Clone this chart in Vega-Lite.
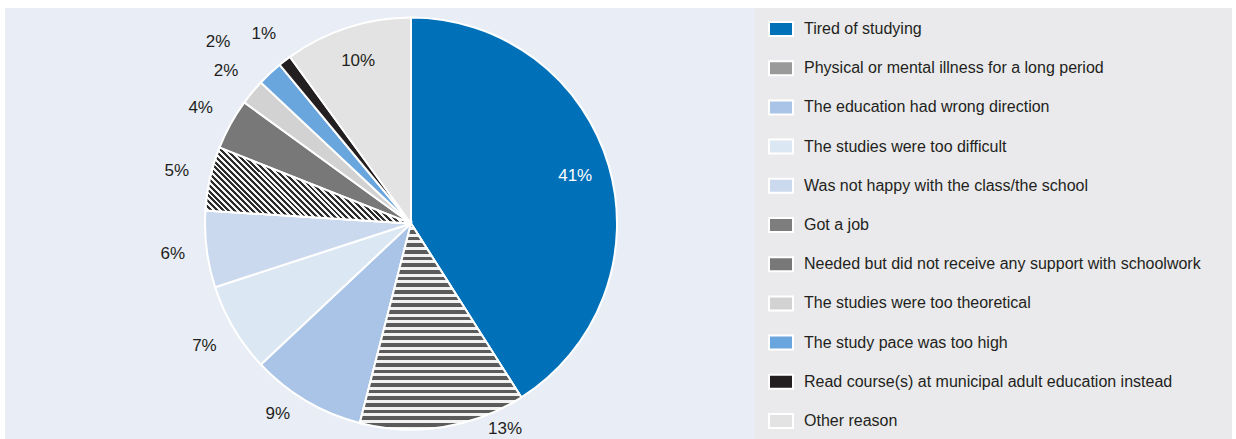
{
  "$schema": "https://vega.github.io/schema/vega-lite/v6.json",
  "background": "white",
  "padding": {"left": 5, "top": 8, "right": 4, "bottom": 0},
  "autosize": {"type": "pad"},
  "spacing": 0,
  "config": {
    "view": {"stroke": null},
    "font": "Liberation Sans",
    "concat": {"spacing": 0}
  },
  "datasets": {
    "reasons": [
      {"rank": 1, "reason": "Tired of studying", "share": 0.41},
      {"rank": 2, "reason": "Physical or mental illness for a long period", "share": 0.13},
      {"rank": 3, "reason": "The education had wrong direction", "share": 0.09},
      {"rank": 4, "reason": "The studies were too difficult", "share": 0.07},
      {"rank": 5, "reason": "Was not happy with the class/the school", "share": 0.06},
      {"rank": 6, "reason": "Got a job", "share": 0.05},
      {"rank": 7, "reason": "Needed but did not receive any support with schoolwork", "share": 0.04},
      {"rank": 8, "reason": "The studies were too theoretical", "share": 0.02},
      {"rank": 9, "reason": "The study pace was too high", "share": 0.02},
      {"rank": 10, "reason": "Read course(s) at municipal adult education instead", "share": 0.01},
      {"rank": 11, "reason": "Other reason", "share": 0.10}
    ]
  },
  "hconcat": [
    {
      "width": 62,
      "height": 431,
      "view": {"fill": "#e9edf6", "stroke": null},
      "data": {"values": [{"blank": ""}]},
      "mark": {"type": "text"},
      "encoding": {"text": {"field": "blank", "type": "nominal"}}
    },
    {
      "width": 688,
      "height": 431,
      "view": {"fill": "#e9edf6", "stroke": null},
      "data": {"name": "reasons"},
      "encoding": {
        "theta": {"field": "share", "type": "quantitative", "stack": true},
        "order": {"field": "rank", "type": "quantitative"}
      },
      "layer": [
        {
          "mark": {"type": "arc", "outerRadius": 206, "stroke": "white", "strokeWidth": 2},
          "encoding": {
            "color": {
              "field": "reason",
              "type": "nominal",
              "scale": {
                "domain": [
                  "Tired of studying",
                  "Physical or mental illness for a long period",
                  "The education had wrong direction",
                  "The studies were too difficult",
                  "Was not happy with the class/the school",
                  "Got a job",
                  "Needed but did not receive any support with schoolwork",
                  "The studies were too theoretical",
                  "The study pace was too high",
                  "Read course(s) at municipal adult education instead",
                  "Other reason"
                ],
                "range": ["#0070b9", "#9a9a9a", "#a9c4e6", "#dce7f4", "#cbd9ee", "#7d7d7d", "#787878", "#d2d2d2", "#6aa6de", "#231f20", "#e3e3e3"]
              },
              "legend": {
                "orient": "none",
                "legendX": 763,
                "legendY": 8,
                "title": null,
                "padding": 0,
                "symbolType": "M-1,-0.583H1V0.583H-1Z",
                "symbolSize": 576,
                "symbolStrokeColor": "white",
                "symbolStrokeWidth": 2,
                "symbolOpacity": 1,
                "labelFont": "Liberation Sans",
                "labelFontSize": 16,
                "labelColor": "#231f20",
                "labelOffset": 10,
                "labelLimit": 0,
                "rowPadding": 15.2
              }
            }
          }
        },
        {
          "mark": {
            "type": "arc", "outerRadius": 206, "stroke": "white", "strokeWidth": 2,
            "fill": {"gradient": "linear", "x1": 0, "y1": 0, "x2": 0, "y2": 1, "stops": [
              {"offset": 0, "color": "#5b5b5b"}, {"offset": 0.0177, "color": "#5b5b5b"}, {"offset": 0.0177, "color": "#f2f2f2"}, {"offset": 0.0323, "color": "#f2f2f2"},
              {"offset": 0.0323, "color": "#5b5b5b"}, {"offset": 0.0500, "color": "#5b5b5b"}, {"offset": 0.0500, "color": "#f2f2f2"}, {"offset": 0.0645, "color": "#f2f2f2"},
              {"offset": 0.0645, "color": "#5b5b5b"}, {"offset": 0.0823, "color": "#5b5b5b"}, {"offset": 0.0823, "color": "#f2f2f2"}, {"offset": 0.0968, "color": "#f2f2f2"},
              {"offset": 0.0968, "color": "#5b5b5b"}, {"offset": 0.1145, "color": "#5b5b5b"}, {"offset": 0.1145, "color": "#f2f2f2"}, {"offset": 0.1290, "color": "#f2f2f2"},
              {"offset": 0.1290, "color": "#5b5b5b"}, {"offset": 0.1468, "color": "#5b5b5b"}, {"offset": 0.1468, "color": "#f2f2f2"}, {"offset": 0.1613, "color": "#f2f2f2"},
              {"offset": 0.1613, "color": "#5b5b5b"}, {"offset": 0.1790, "color": "#5b5b5b"}, {"offset": 0.1790, "color": "#f2f2f2"}, {"offset": 0.1935, "color": "#f2f2f2"},
              {"offset": 0.1935, "color": "#5b5b5b"}, {"offset": 0.2113, "color": "#5b5b5b"}, {"offset": 0.2113, "color": "#f2f2f2"}, {"offset": 0.2258, "color": "#f2f2f2"},
              {"offset": 0.2258, "color": "#5b5b5b"}, {"offset": 0.2435, "color": "#5b5b5b"}, {"offset": 0.2435, "color": "#f2f2f2"}, {"offset": 0.2581, "color": "#f2f2f2"},
              {"offset": 0.2581, "color": "#5b5b5b"}, {"offset": 0.2758, "color": "#5b5b5b"}, {"offset": 0.2758, "color": "#f2f2f2"}, {"offset": 0.2903, "color": "#f2f2f2"},
              {"offset": 0.2903, "color": "#5b5b5b"}, {"offset": 0.3081, "color": "#5b5b5b"}, {"offset": 0.3081, "color": "#f2f2f2"}, {"offset": 0.3226, "color": "#f2f2f2"},
              {"offset": 0.3226, "color": "#5b5b5b"}, {"offset": 0.3403, "color": "#5b5b5b"}, {"offset": 0.3403, "color": "#f2f2f2"}, {"offset": 0.3548, "color": "#f2f2f2"},
              {"offset": 0.3548, "color": "#5b5b5b"}, {"offset": 0.3726, "color": "#5b5b5b"}, {"offset": 0.3726, "color": "#f2f2f2"}, {"offset": 0.3871, "color": "#f2f2f2"},
              {"offset": 0.3871, "color": "#5b5b5b"}, {"offset": 0.4048, "color": "#5b5b5b"}, {"offset": 0.4048, "color": "#f2f2f2"}, {"offset": 0.4194, "color": "#f2f2f2"},
              {"offset": 0.4194, "color": "#5b5b5b"}, {"offset": 0.4371, "color": "#5b5b5b"}, {"offset": 0.4371, "color": "#f2f2f2"}, {"offset": 0.4516, "color": "#f2f2f2"},
              {"offset": 0.4516, "color": "#5b5b5b"}, {"offset": 0.4694, "color": "#5b5b5b"}, {"offset": 0.4694, "color": "#f2f2f2"}, {"offset": 0.4839, "color": "#f2f2f2"},
              {"offset": 0.4839, "color": "#5b5b5b"}, {"offset": 0.5016, "color": "#5b5b5b"}, {"offset": 0.5016, "color": "#f2f2f2"}, {"offset": 0.5161, "color": "#f2f2f2"},
              {"offset": 0.5161, "color": "#5b5b5b"}, {"offset": 0.5339, "color": "#5b5b5b"}, {"offset": 0.5339, "color": "#f2f2f2"}, {"offset": 0.5484, "color": "#f2f2f2"},
              {"offset": 0.5484, "color": "#5b5b5b"}, {"offset": 0.5661, "color": "#5b5b5b"}, {"offset": 0.5661, "color": "#f2f2f2"}, {"offset": 0.5806, "color": "#f2f2f2"},
              {"offset": 0.5806, "color": "#5b5b5b"}, {"offset": 0.5984, "color": "#5b5b5b"}, {"offset": 0.5984, "color": "#f2f2f2"}, {"offset": 0.6129, "color": "#f2f2f2"},
              {"offset": 0.6129, "color": "#5b5b5b"}, {"offset": 0.6306, "color": "#5b5b5b"}, {"offset": 0.6306, "color": "#f2f2f2"}, {"offset": 0.6452, "color": "#f2f2f2"},
              {"offset": 0.6452, "color": "#5b5b5b"}, {"offset": 0.6629, "color": "#5b5b5b"}, {"offset": 0.6629, "color": "#f2f2f2"}, {"offset": 0.6774, "color": "#f2f2f2"},
              {"offset": 0.6774, "color": "#5b5b5b"}, {"offset": 0.6952, "color": "#5b5b5b"}, {"offset": 0.6952, "color": "#f2f2f2"}, {"offset": 0.7097, "color": "#f2f2f2"},
              {"offset": 0.7097, "color": "#5b5b5b"}, {"offset": 0.7274, "color": "#5b5b5b"}, {"offset": 0.7274, "color": "#f2f2f2"}, {"offset": 0.7419, "color": "#f2f2f2"},
              {"offset": 0.7419, "color": "#5b5b5b"}, {"offset": 0.7597, "color": "#5b5b5b"}, {"offset": 0.7597, "color": "#f2f2f2"}, {"offset": 0.7742, "color": "#f2f2f2"},
              {"offset": 0.7742, "color": "#5b5b5b"}, {"offset": 0.7919, "color": "#5b5b5b"}, {"offset": 0.7919, "color": "#f2f2f2"}, {"offset": 0.8065, "color": "#f2f2f2"},
              {"offset": 0.8065, "color": "#5b5b5b"}, {"offset": 0.8242, "color": "#5b5b5b"}, {"offset": 0.8242, "color": "#f2f2f2"}, {"offset": 0.8387, "color": "#f2f2f2"},
              {"offset": 0.8387, "color": "#5b5b5b"}, {"offset": 0.8565, "color": "#5b5b5b"}, {"offset": 0.8565, "color": "#f2f2f2"}, {"offset": 0.8710, "color": "#f2f2f2"},
              {"offset": 0.8710, "color": "#5b5b5b"}, {"offset": 0.8887, "color": "#5b5b5b"}, {"offset": 0.8887, "color": "#f2f2f2"}, {"offset": 0.9032, "color": "#f2f2f2"},
              {"offset": 0.9032, "color": "#5b5b5b"}, {"offset": 0.9210, "color": "#5b5b5b"}, {"offset": 0.9210, "color": "#f2f2f2"}, {"offset": 0.9355, "color": "#f2f2f2"},
              {"offset": 0.9355, "color": "#5b5b5b"}, {"offset": 0.9532, "color": "#5b5b5b"}, {"offset": 0.9532, "color": "#f2f2f2"}, {"offset": 0.9677, "color": "#f2f2f2"},
              {"offset": 0.9677, "color": "#5b5b5b"}, {"offset": 0.9855, "color": "#5b5b5b"}, {"offset": 0.9855, "color": "#f2f2f2"}, {"offset": 1, "color": "#f2f2f2"}
            ]}
          },
          "encoding": {
            "opacity": {"condition": {"test": "datum.rank == 2", "value": 1}, "value": 0}
          }
        },
        {
          "mark": {
            "type": "arc", "outerRadius": 206, "stroke": "white", "strokeWidth": 2,
            "fill": {"gradient": "linear", "x1": 0, "y1": 1, "x2": 1, "y2": 0.631, "stops": [
              {"offset": 0, "color": "#2b2b2b"}, {"offset": 0.0125, "color": "#2b2b2b"}, {"offset": 0.0125, "color": "#f4f4f4"}, {"offset": 0.025, "color": "#f4f4f4"},
              {"offset": 0.025, "color": "#2b2b2b"}, {"offset": 0.0375, "color": "#2b2b2b"}, {"offset": 0.0375, "color": "#f4f4f4"}, {"offset": 0.05, "color": "#f4f4f4"},
              {"offset": 0.05, "color": "#2b2b2b"}, {"offset": 0.0625, "color": "#2b2b2b"}, {"offset": 0.0625, "color": "#f4f4f4"}, {"offset": 0.075, "color": "#f4f4f4"},
              {"offset": 0.075, "color": "#2b2b2b"}, {"offset": 0.0875, "color": "#2b2b2b"}, {"offset": 0.0875, "color": "#f4f4f4"}, {"offset": 0.1, "color": "#f4f4f4"},
              {"offset": 0.1, "color": "#2b2b2b"}, {"offset": 0.1125, "color": "#2b2b2b"}, {"offset": 0.1125, "color": "#f4f4f4"}, {"offset": 0.125, "color": "#f4f4f4"},
              {"offset": 0.125, "color": "#2b2b2b"}, {"offset": 0.1375, "color": "#2b2b2b"}, {"offset": 0.1375, "color": "#f4f4f4"}, {"offset": 0.15, "color": "#f4f4f4"},
              {"offset": 0.15, "color": "#2b2b2b"}, {"offset": 0.1625, "color": "#2b2b2b"}, {"offset": 0.1625, "color": "#f4f4f4"}, {"offset": 0.175, "color": "#f4f4f4"},
              {"offset": 0.175, "color": "#2b2b2b"}, {"offset": 0.1875, "color": "#2b2b2b"}, {"offset": 0.1875, "color": "#f4f4f4"}, {"offset": 0.2, "color": "#f4f4f4"},
              {"offset": 0.2, "color": "#2b2b2b"}, {"offset": 0.2125, "color": "#2b2b2b"}, {"offset": 0.2125, "color": "#f4f4f4"}, {"offset": 0.225, "color": "#f4f4f4"},
              {"offset": 0.225, "color": "#2b2b2b"}, {"offset": 0.2375, "color": "#2b2b2b"}, {"offset": 0.2375, "color": "#f4f4f4"}, {"offset": 0.25, "color": "#f4f4f4"},
              {"offset": 0.25, "color": "#2b2b2b"}, {"offset": 0.2625, "color": "#2b2b2b"}, {"offset": 0.2625, "color": "#f4f4f4"}, {"offset": 0.275, "color": "#f4f4f4"},
              {"offset": 0.275, "color": "#2b2b2b"}, {"offset": 0.2875, "color": "#2b2b2b"}, {"offset": 0.2875, "color": "#f4f4f4"}, {"offset": 0.3, "color": "#f4f4f4"},
              {"offset": 0.3, "color": "#2b2b2b"}, {"offset": 0.3125, "color": "#2b2b2b"}, {"offset": 0.3125, "color": "#f4f4f4"}, {"offset": 0.325, "color": "#f4f4f4"},
              {"offset": 0.325, "color": "#2b2b2b"}, {"offset": 0.3375, "color": "#2b2b2b"}, {"offset": 0.3375, "color": "#f4f4f4"}, {"offset": 0.35, "color": "#f4f4f4"},
              {"offset": 0.35, "color": "#2b2b2b"}, {"offset": 0.3625, "color": "#2b2b2b"}, {"offset": 0.3625, "color": "#f4f4f4"}, {"offset": 0.375, "color": "#f4f4f4"},
              {"offset": 0.375, "color": "#2b2b2b"}, {"offset": 0.3875, "color": "#2b2b2b"}, {"offset": 0.3875, "color": "#f4f4f4"}, {"offset": 0.4, "color": "#f4f4f4"},
              {"offset": 0.4, "color": "#2b2b2b"}, {"offset": 0.4125, "color": "#2b2b2b"}, {"offset": 0.4125, "color": "#f4f4f4"}, {"offset": 0.425, "color": "#f4f4f4"},
              {"offset": 0.425, "color": "#2b2b2b"}, {"offset": 0.4375, "color": "#2b2b2b"}, {"offset": 0.4375, "color": "#f4f4f4"}, {"offset": 0.45, "color": "#f4f4f4"},
              {"offset": 0.45, "color": "#2b2b2b"}, {"offset": 0.4625, "color": "#2b2b2b"}, {"offset": 0.4625, "color": "#f4f4f4"}, {"offset": 0.475, "color": "#f4f4f4"},
              {"offset": 0.475, "color": "#2b2b2b"}, {"offset": 0.4875, "color": "#2b2b2b"}, {"offset": 0.4875, "color": "#f4f4f4"}, {"offset": 0.5, "color": "#f4f4f4"},
              {"offset": 0.5, "color": "#2b2b2b"}, {"offset": 0.5125, "color": "#2b2b2b"}, {"offset": 0.5125, "color": "#f4f4f4"}, {"offset": 0.525, "color": "#f4f4f4"},
              {"offset": 0.525, "color": "#2b2b2b"}, {"offset": 0.5375, "color": "#2b2b2b"}, {"offset": 0.5375, "color": "#f4f4f4"}, {"offset": 0.55, "color": "#f4f4f4"},
              {"offset": 0.55, "color": "#2b2b2b"}, {"offset": 0.5625, "color": "#2b2b2b"}, {"offset": 0.5625, "color": "#f4f4f4"}, {"offset": 0.575, "color": "#f4f4f4"},
              {"offset": 0.575, "color": "#2b2b2b"}, {"offset": 0.5875, "color": "#2b2b2b"}, {"offset": 0.5875, "color": "#f4f4f4"}, {"offset": 0.6, "color": "#f4f4f4"},
              {"offset": 0.6, "color": "#2b2b2b"}, {"offset": 0.6125, "color": "#2b2b2b"}, {"offset": 0.6125, "color": "#f4f4f4"}, {"offset": 0.625, "color": "#f4f4f4"},
              {"offset": 0.625, "color": "#2b2b2b"}, {"offset": 0.6375, "color": "#2b2b2b"}, {"offset": 0.6375, "color": "#f4f4f4"}, {"offset": 0.65, "color": "#f4f4f4"},
              {"offset": 0.65, "color": "#2b2b2b"}, {"offset": 0.6625, "color": "#2b2b2b"}, {"offset": 0.6625, "color": "#f4f4f4"}, {"offset": 0.675, "color": "#f4f4f4"},
              {"offset": 0.675, "color": "#2b2b2b"}, {"offset": 0.6875, "color": "#2b2b2b"}, {"offset": 0.6875, "color": "#f4f4f4"}, {"offset": 0.7, "color": "#f4f4f4"},
              {"offset": 0.7, "color": "#2b2b2b"}, {"offset": 0.7125, "color": "#2b2b2b"}, {"offset": 0.7125, "color": "#f4f4f4"}, {"offset": 0.725, "color": "#f4f4f4"},
              {"offset": 0.725, "color": "#2b2b2b"}, {"offset": 0.7375, "color": "#2b2b2b"}, {"offset": 0.7375, "color": "#f4f4f4"}, {"offset": 0.75, "color": "#f4f4f4"},
              {"offset": 0.75, "color": "#2b2b2b"}, {"offset": 0.7625, "color": "#2b2b2b"}, {"offset": 0.7625, "color": "#f4f4f4"}, {"offset": 0.775, "color": "#f4f4f4"},
              {"offset": 0.775, "color": "#2b2b2b"}, {"offset": 0.7875, "color": "#2b2b2b"}, {"offset": 0.7875, "color": "#f4f4f4"}, {"offset": 0.8, "color": "#f4f4f4"},
              {"offset": 0.8, "color": "#2b2b2b"}, {"offset": 0.8125, "color": "#2b2b2b"}, {"offset": 0.8125, "color": "#f4f4f4"}, {"offset": 0.825, "color": "#f4f4f4"},
              {"offset": 0.825, "color": "#2b2b2b"}, {"offset": 0.8375, "color": "#2b2b2b"}, {"offset": 0.8375, "color": "#f4f4f4"}, {"offset": 0.85, "color": "#f4f4f4"},
              {"offset": 0.85, "color": "#2b2b2b"}, {"offset": 0.8625, "color": "#2b2b2b"}, {"offset": 0.8625, "color": "#f4f4f4"}, {"offset": 0.875, "color": "#f4f4f4"},
              {"offset": 0.875, "color": "#2b2b2b"}, {"offset": 0.8875, "color": "#2b2b2b"}, {"offset": 0.8875, "color": "#f4f4f4"}, {"offset": 0.9, "color": "#f4f4f4"},
              {"offset": 0.9, "color": "#2b2b2b"}, {"offset": 0.9125, "color": "#2b2b2b"}, {"offset": 0.9125, "color": "#f4f4f4"}, {"offset": 0.925, "color": "#f4f4f4"},
              {"offset": 0.925, "color": "#2b2b2b"}, {"offset": 0.9375, "color": "#2b2b2b"}, {"offset": 0.9375, "color": "#f4f4f4"}, {"offset": 0.95, "color": "#f4f4f4"},
              {"offset": 0.95, "color": "#2b2b2b"}, {"offset": 0.9625, "color": "#2b2b2b"}, {"offset": 0.9625, "color": "#f4f4f4"}, {"offset": 0.975, "color": "#f4f4f4"},
              {"offset": 0.975, "color": "#2b2b2b"}, {"offset": 0.9875, "color": "#2b2b2b"}, {"offset": 0.9875, "color": "#f4f4f4"}, {"offset": 1, "color": "#f4f4f4"}
            ]}
          },
          "encoding": {
            "opacity": {"condition": {"test": "datum.rank == 6", "value": 1}, "value": 0}
          }
        },
        {
          "mark": {"type": "text", "radius": 171, "fontSize": 17, "clip": true},
          "encoding": {
            "text": {"field": "share", "type": "quantitative", "format": ".0%"},
            "opacity": {"condition": {"test": "datum.rank == 1 || datum.rank == 11", "value": 1}, "value": 0},
            "color": {"condition": {"test": "datum.rank == 1", "value": "white"}, "value": "#231f20"}
          }
        },
        {
          "mark": {"type": "text", "radius": 240, "fontSize": 17, "color": "#231f20", "clip": true},
          "encoding": {
            "text": {"field": "share", "type": "quantitative", "format": ".0%"},
            "opacity": {"condition": {"test": "datum.rank >= 4 && datum.rank <= 8 || datum.rank == 10", "value": 1}, "value": 0}
          }
        },
        {
          "mark": {"type": "text", "radius": 226, "thetaOffset": -0.272, "fontSize": 17, "color": "#231f20", "clip": true},
          "encoding": {
            "text": {"field": "share", "type": "quantitative", "format": ".0%"},
            "opacity": {"condition": {"test": "datum.rank == 2", "value": 1}, "value": 0}
          }
        },
        {
          "mark": {"type": "text", "radius": 232, "thetaOffset": 0.077, "fontSize": 17, "color": "#231f20", "clip": true},
          "encoding": {
            "text": {"field": "share", "type": "quantitative", "format": ".0%"},
            "opacity": {"condition": {"test": "datum.rank == 3", "value": 1}, "value": 0}
          }
        },
        {
          "mark": {"type": "text", "radius": 265, "thetaOffset": -0.061, "fontSize": 17, "color": "#231f20", "clip": true},
          "encoding": {
            "text": {"field": "share", "type": "quantitative", "format": ".0%"},
            "opacity": {"condition": {"test": "datum.rank == 9", "value": 1}, "value": 0}
          }
        }
      ]
    },
    {
      "width": 477,
      "height": 431,
      "view": {"fill": "#eaeaec", "stroke": null},
      "data": {"values": [{"blank": ""}]},
      "mark": {"type": "text"},
      "encoding": {"text": {"field": "blank", "type": "nominal"}}
    }
  ]
}
